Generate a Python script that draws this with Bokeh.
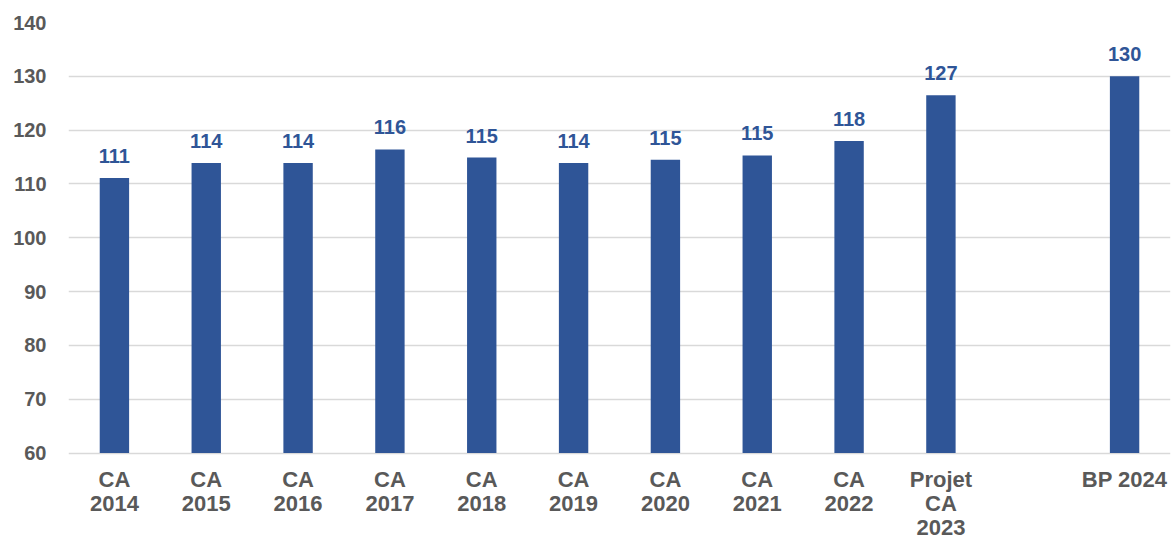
from bokeh.plotting import figure
from bokeh.models import ColumnDataSource, FixedTicker
from bokeh.core.properties import value
from bokeh.embed import file_html
from bokeh.resources import INLINE

categories = ["CA 2014", "CA 2015", "CA 2016", "CA 2017", "CA 2018", "CA 2019",
              "CA 2020", "CA 2021", "CA 2022", "Projet CA 2023", " ", "BP 2024"]
tick_labels = ["CA\n2014", "CA\n2015", "CA\n2016", "CA\n2017", "CA\n2018", "CA\n2019",
               "CA\n2020", "CA\n2021", "CA\n2022", "Projet\nCA\n2023", "", "BP 2024"]
bar_categories = ["CA 2014", "CA 2015", "CA 2016", "CA 2017", "CA 2018", "CA 2019",
                  "CA 2020", "CA 2021", "CA 2022", "Projet CA 2023", "BP 2024"]
values = [111.1, 113.9, 113.9, 116.4, 114.9, 113.9, 114.5, 115.3, 118.0, 126.5, 130.0]
value_labels = ["111", "114", "114", "116", "115", "114", "115", "115", "118", "127", "130"]
y_ticks = [60, 70, 80, 90, 100, 110, 120, 130, 140]

Y_BASE = 60
Y_TOP = 140
FONT = "Liberation Sans"
GRAY = "#595959"
BLUE = "#2F5597"

# frame geometry (pixels)
H = 540
TOP_BORDER = 22
FRAME_H = H - TOP_BORDER
PX_PER_UNIT = 430.5 / (Y_TOP - Y_BASE)
y_start = Y_TOP - FRAME_H / PX_PER_UNIT

src = ColumnDataSource(dict(x=bar_categories, top=values, lab=value_labels))

# category label lines, built from tick_labels
lx, ltext, loff = [], [], []
LINE_GAP = 24
FIRST_BASELINE = 26.5
for cat, lab in zip(categories, tick_labels):
    if not lab:
        continue
    for i, line in enumerate(lab.split("\n")):
        lx.append(cat)
        ltext.append(line)
        loff.append(FIRST_BASELINE + i * LINE_GAP)
lsrc = ColumnDataSource(dict(x=lx, text=ltext, off=loff, y=[Y_BASE] * len(lx)))

p = figure(x_range=categories, y_range=(y_start, Y_TOP), width=1172, height=H,
           output_backend="svg", toolbar_location=None,
           min_border_left=68, min_border_right=2, min_border_top=TOP_BORDER,
           min_border_bottom=0)
p.outline_line_color = None
p.background_fill_color = "white"
p.border_fill_color = "white"

p.vbar(x="x", top="top", bottom=Y_BASE, width=0.32, source=src,
       fill_color=BLUE, line_color=None)
p.text(x="x", y="top", text="lab", source=src, y_offset=-22,
       text_align="center", text_baseline="alphabetic",
       text_font=value(FONT), text_font_style="bold",
       text_font_size="20px", text_color=BLUE)
p.text(x="x", y="y", text="text", source=lsrc, y_offset="off",
       text_align="center", text_baseline="alphabetic",
       text_font=value(FONT), text_font_style="bold",
       text_font_size="22px", text_color=GRAY)

p.xgrid.grid_line_color = None
p.ygrid.grid_line_color = "#D9D9D9"
p.ygrid.grid_line_width = 1.5

p.xaxis.visible = False

p.yaxis.ticker = FixedTicker(ticks=y_ticks)
p.yaxis.axis_line_color = None
p.yaxis.major_tick_line_color = None
p.yaxis.minor_tick_line_color = None
p.yaxis.major_label_standoff = 16
p.yaxis.major_label_text_font = FONT
p.yaxis.major_label_text_font_style = "bold"
p.yaxis.major_label_text_font_size = "20px"
p.yaxis.major_label_text_color = GRAY

open("out.html", "w").write(file_html(p, INLINE))
